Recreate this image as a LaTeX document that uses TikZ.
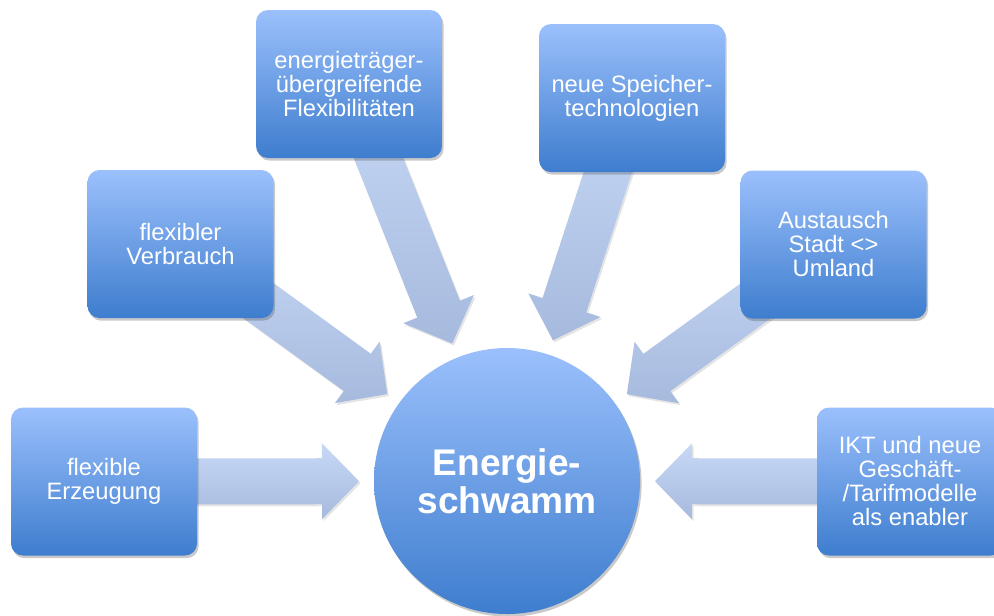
\documentclass[tikz,border=0pt]{standalone}
\usepackage{fontspec}
\setmainfont{Liberation Sans}
\usetikzlibrary{calc}
\usetikzlibrary{shadows}
\usetikzlibrary{backgrounds}
\definecolor{boxtop}{RGB}{155,192,252}
\definecolor{boxbot}{RGB}{62,125,206}
\definecolor{arrtop}{RGB}{200,217,246}
\definecolor{arrbot}{RGB}{166,186,222}
\tikzstyle{feature}=[rectangle,rounded corners=9pt,minimum width=139.5pt,minimum height=111pt,inner sep=0pt,align=center,text=white,top color=boxtop,bottom color=boxbot,drop shadow={shadow xshift=1.2pt,shadow yshift=-2pt,opacity=0.3,fill=black!70},font=\fontsize{17.8}{18}\selectfont]
\tikzstyle{sponge}=[circle,minimum size=199.5pt,inner sep=0pt,align=center,text=white,top color=boxtop,bottom color=boxbot,drop shadow={shadow xshift=1.2pt,shadow yshift=-2pt,opacity=0.3,fill=black!70},font=\bfseries\fontsize{27.8}{28.5}\selectfont]
\tikzstyle{blockarrow}=[top color=arrtop,bottom color=arrbot,drop shadow={shadow xshift=1.2pt,shadow yshift=-1.5pt,opacity=0.15,fill=black!70}]
\newcommand{\feedarrow}[2]{% Syntax: {source node}{target node}, tip stops short of the target
	\coordinate (head) at ($(#2.center)!138.75pt!(#1.center)$);
	\coordinate (tip) at ($(#2.center)!111pt!(#1.center)$);
	\path[blockarrow] ($(#1.center)!17.25pt!90:(#2.center)$) -- ($(head)!17.25pt!90:(#2.center)$)
		-- ($(head)!28.5pt!90:(#2.center)$) -- (tip) -- ($(head)!28.5pt!-90:(#2.center)$)
		-- ($(head)!17.25pt!-90:(#2.center)$) -- ($(#1.center)!17.25pt!-90:(#2.center)$) -- cycle;
}

\begin{document}
\begin{tikzpicture}[x=0.75pt,y=-0.75pt]
	\useasboundingbox (0,0) rectangle (994,615);
	\node[sponge] (schwamm) at (507,481) {Energie-\\schwamm};
	\node[feature] (erzeugung) at (104,481.5) {flexible\\Erzeugung};
	\node[feature] (verbrauch) at (180.5,244) {flexibler\\Verbrauch};
	\node[feature] (uebergreifend) at (349,84) {energieträger-\\übergreifende\\Flexibilitäten};
	\node[feature] (speicher) at (632,98) {neue Speicher-\\technologien};
	\node[feature] (austausch) at (833.5,244.5) {Austausch\\Stadt <>\\Umland};
	\node[feature] (ikt) at (910,481.5) {IKT und neue\\Geschäft-\\/Tarifmodelle\\als enabler};
	\begin{pgfonlayer}{background}
	\feedarrow{erzeugung}{schwamm}
	\feedarrow{verbrauch}{schwamm}
	\feedarrow{uebergreifend}{schwamm}
	\feedarrow{speicher}{schwamm}
	\feedarrow{austausch}{schwamm}
	\feedarrow{ikt}{schwamm}
	\end{pgfonlayer}
\end{tikzpicture}
\end{document}
